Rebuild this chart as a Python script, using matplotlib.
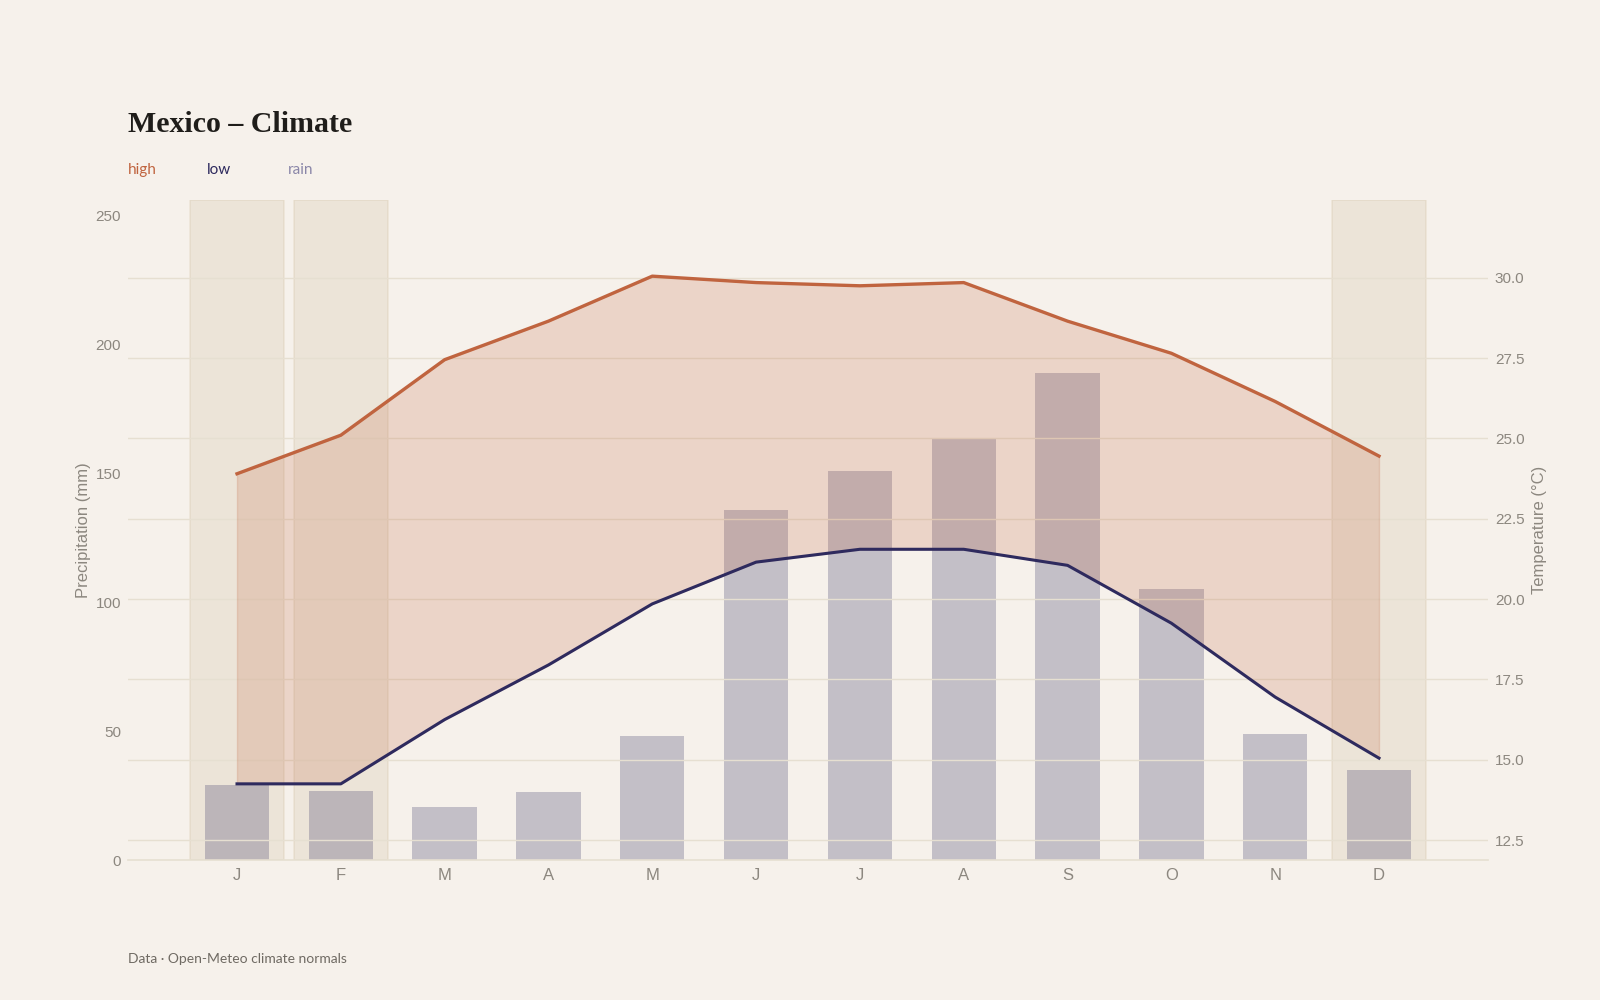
import numpy as np
import matplotlib
matplotlib.use("Agg")
import matplotlib.pyplot as plt

# monthly climate normals, Mexico
months = ["J", "F", "M", "A", "M", "J", "J", "A", "S", "O", "N", "D"]
rain = [29.2, 26.8, 20.6, 26.5, 48.3, 136, 151, 163.5, 189, 105, 49, 35]
high = [23.9, 25.1, 27.45, 28.65, 30.05, 29.85, 29.75, 29.85, 28.65, 27.65, 26.15, 24.45]
low = [14.25, 14.25, 16.25, 17.95, 19.85, 21.15, 21.55, 21.55, 21.05, 19.25, 16.95, 15.05]
dry_months = [0, 1, 11]

BG = "#f6f1eb"
HIGH_C = "#c0643f"
LOW_C = "#2e2a5e"
RAIN_C = "#8a86a8"
TICK_C = "#8c877f"
GRID_C = "#e6dfd1"
SPAN_C = "#c8b48c"

plt.rcParams["font.family"] = ["Liberation Sans", "DejaVu Sans"]

fig = plt.figure(figsize=(16, 10), dpi=100, facecolor=BG)
ax = fig.add_axes([0.08, 0.14, 0.85, 0.66])
ax.set_facecolor(BG)
x = np.arange(len(months))

# shaded dry-season months
for m in dry_months:
    ax.axvspan(m - 0.45, m + 0.45, color=SPAN_C, alpha=0.2, lw=1.2, zorder=0)

ax.bar(x, rain, width=0.62, color=LOW_C, alpha=0.25, lw=0, zorder=1)
ax.set_ylim(0, max(rain) * 1.355)
ax.set_yticks([0, 50, 100, 150, 200, 250])
ax.set_xticks(x)
ax.set_xticklabels(months)
ax.tick_params(length=0, labelsize=11, colors=TICK_C)
ax.tick_params(axis="x", pad=6, labelsize=12)
ax.tick_params(axis="y", pad=5)
ax.set_ylabel("Precipitation (mm)", color=TICK_C, fontsize=12, labelpad=3)
for s in ["left", "right", "top"]:
    ax.spines[s].set_visible(False)
ax.spines["bottom"].set_color(GRID_C)
ax.spines["bottom"].set_linewidth(1.2)

ax2 = ax.twinx()
span = max(high) - min(low)
ax2.set_ylim(min(low) - 0.15 * span, max(high) + 0.15 * span)
ax2.set_yticks([12.5, 15.0, 17.5, 20.0, 22.5, 25.0, 27.5, 30.0])
ax2.set_yticklabels(["12.5", "15.0", "17.5", "20.0", "22.5", "25.0", "27.5", "30.0"])
ax2.grid(axis="y", color=GRID_C, lw=1.0)
ax2.set_axisbelow(True)
ax2.fill_between(x, low, high, color=HIGH_C, alpha=0.2, lw=1, zorder=2)
ax2.plot(x, high, color=HIGH_C, lw=2.4, zorder=3)
ax2.plot(x, low, color=LOW_C, lw=2.2, zorder=3)
ax2.tick_params(length=0, labelsize=11, colors=TICK_C, pad=5)
ax2.set_ylabel("Temperature (°C)", color=TICK_C, fontsize=12, labelpad=5)
for s in ["left", "right", "top", "bottom"]:
    ax2.spines[s].set_visible(False)
ax.set_xlim(-1.05, 12.05)

fig.text(0.08, 0.876, "Mexico – Climate", family=["Liberation Serif", "DejaVu Serif"],
         fontweight="bold", fontsize=21.5, color="#1f1d1a", va="center")
fig.text(0.08, 0.830, "high", color=HIGH_C, fontsize=11, family=["Lato", "DejaVu Sans"], va="center")
fig.text(0.1295, 0.830, "low", color=LOW_C, fontsize=11, family=["Lato", "DejaVu Sans"], va="center")
fig.text(0.18, 0.830, "rain", color=RAIN_C, fontsize=11, family=["Lato", "DejaVu Sans"], va="center")
fig.text(0.08, 0.041, "Data · Open-Meteo climate normals", color="#6f6a63", fontsize=10,
         family=["Lato", "DejaVu Sans"], va="center")

fig.savefig("out.png", dpi=100, facecolor=BG)
